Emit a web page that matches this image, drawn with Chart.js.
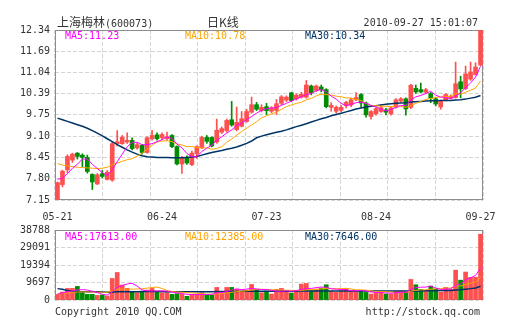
<!DOCTYPE html>
<html>
<head>
<meta charset="utf-8">
<script src="https://cdn.jsdelivr.net/npm/chart.js@4/dist/chart.umd.min.js"></script>
<style>
  body { margin: 0; background: #fff; width: 505px; height: 330px; position: relative; overflow: hidden;
         font-family: "DejaVu Sans Mono", monospace; font-size: 10px; color: #333; }
  canvas { position: absolute; left: 0; }
  #main { top: 0; }
  #vol { top: 222px; }
  .t { position: absolute; white-space: nowrap; line-height: 12px; }
  .cjk { font-family: "Noto Sans CJK SC", sans-serif; font-size: 12px; }
</style>
</head>
<body>
<canvas id="main" width="505" height="225"></canvas>
<canvas id="vol" width="505" height="108"></canvas>

<div class="t" style="left:57px;top:16px"><span class="cjk">上海梅林</span>(600073)</div>
<div class="t cjk" style="left:207px;top:16px">日K线</div>
<div class="t" style="right:27px;top:16.5px">2010-09-27 15:01:07</div>

<div class="t" style="left:65px;top:30px;color:#ff00ff">MA5:11.23</div>
<div class="t" style="left:185px;top:30px;color:#ffa500">MA10:10.78</div>
<div class="t" style="left:305px;top:30px;color:#003366">MA30:10.34</div>

<div class="t" style="left:65px;top:231px;color:#ff00ff">MA5:17613.00</div>
<div class="t" style="left:185px;top:231px;color:#ffa500">MA10:12385.00</div>
<div class="t" style="left:305px;top:231px;color:#003366">MA30:7646.00</div>

<div class="t" style="left:55px;top:306px">Copyright 2010 QQ.COM</div>
<div class="t" style="right:25px;top:306px">http://stock.qq.com</div>

<script>
// trading days shown (categories)
const dates = ['05-21','05-24','05-25','05-26','05-27','05-28','05-31',
  '06-01','06-02','06-03','06-04','06-07','06-08','06-09','06-10','06-11','06-17','06-18',
  '06-21','06-22','06-23','06-24','06-25','06-28','06-29','06-30',
  '07-01','07-02','07-05','07-06','07-07','07-08','07-09','07-12','07-13','07-14','07-15','07-16',
  '07-19','07-20','07-21','07-22','07-23','07-26','07-27','07-28','07-29','07-30',
  '08-02','08-03','08-04','08-05','08-06','08-09','08-10','08-11','08-12','08-13',
  '08-16','08-17','08-18','08-19','08-20','08-23','08-24','08-25','08-26','08-27','08-30','08-31',
  '09-01','09-02','09-03','09-06','09-07','09-08','09-09','09-10','09-13','09-14','09-15','09-16','09-17',
  '09-20','09-21','09-27'];
const tickDates = ['05-21', '06-24', '07-23', '08-24', '09-27'];

const openP = [7.17,7.62,8.07,8.37,8.58,8.52,8.45,7.93,7.64,7.95,
  7.78,7.76,8.87,8.87,8.92,8.97,8.74,8.82,8.60,9.02,
  9.14,9.05,9.02,9.12,8.78,8.25,8.43,8.23,8.56,8.75,
  9.06,9.06,8.92,9.22,9.27,9.60,9.30,9.40,9.55,9.83,
  10.06,9.88,10.00,9.86,9.88,10.10,10.20,10.42,10.24,10.29,
  10.29,10.63,10.50,10.60,10.52,9.98,9.86,9.89,10.03,10.05,
  10.21,10.37,10.11,9.70,9.78,9.85,9.90,9.78,9.98,10.17,
  10.24,9.98,10.56,10.52,10.44,10.40,10.24,9.99,10.20,10.26,
  10.28,10.76,10.55,10.84,10.98,11.27];
const highP = [7.70,8.06,8.53,8.58,8.60,8.56,8.52,7.95,7.96,8.05,
  8.05,8.92,9.27,9.12,9.20,9.05,8.88,8.85,9.08,9.28,
  9.20,9.20,9.22,9.15,8.80,8.48,8.50,8.64,8.80,9.10,
  9.12,9.08,9.62,9.38,9.62,10.16,9.99,9.85,9.92,10.29,
  10.13,10.06,10.10,10.00,10.22,10.34,10.33,10.44,10.39,10.44,
  10.80,10.66,10.66,10.66,10.55,10.12,10.02,10.03,10.16,10.26,
  10.43,10.40,10.14,9.88,9.97,10.06,9.95,10.00,10.25,10.28,
  10.27,10.68,10.66,10.72,10.56,10.43,10.27,10.20,10.40,10.36,
  11.36,10.93,11.24,11.36,11.34,12.34];
const lowP = [7.15,7.55,7.98,8.30,8.40,8.17,7.97,7.47,7.62,7.82,
  7.76,7.72,8.80,8.85,8.88,8.68,8.70,8.55,8.58,8.98,
  8.98,9.00,8.97,8.75,8.22,7.96,8.24,8.20,8.42,8.72,
  8.88,8.77,8.88,9.18,9.22,9.40,9.26,9.38,9.52,9.80,
  9.88,9.84,9.76,9.82,9.76,10.06,10.15,10.15,10.20,10.26,
  10.26,10.36,10.46,10.45,9.96,9.86,9.80,9.84,9.96,10.00,
  10.18,9.98,9.68,9.62,9.74,9.82,9.75,9.74,9.95,10.14,
  9.74,9.94,10.40,10.42,10.40,10.12,10.02,9.92,10.17,10.24,
  10.26,10.27,10.52,10.80,10.96,11.25];
const closeP = [7.68,8.03,8.48,8.55,8.48,8.45,8.02,7.70,7.92,7.87,
  8.00,8.87,8.93,9.07,8.97,8.72,8.84,8.60,9.05,9.12,
  9.02,9.15,9.08,8.78,8.25,8.45,8.28,8.58,8.78,9.06,
  8.94,8.80,9.28,9.33,9.58,9.44,9.52,9.63,9.85,10.06,
  9.92,9.98,9.88,9.96,10.09,10.30,10.29,10.19,10.35,10.38,
  10.66,10.42,10.63,10.52,10.00,10.04,9.98,9.98,10.13,10.21,
  10.28,10.11,9.75,9.85,9.94,9.97,9.83,9.96,10.21,10.24,
  9.93,10.65,10.45,10.45,10.52,10.26,10.08,10.16,10.37,10.31,
  10.70,10.54,11.00,11.06,11.21,12.34];

const ma5 = [7.78,7.82,7.95,8.12,8.24,8.40,8.40,8.24,8.11,7.99,
  7.90,8.07,8.32,8.55,8.77,8.91,8.91,8.84,8.84,8.87,
  8.93,8.99,9.08,9.03,8.86,8.74,8.57,8.47,8.47,8.63,
  8.73,8.83,8.97,9.08,9.19,9.29,9.43,9.50,9.60,9.70,
  9.80,9.89,9.94,9.96,9.97,10.04,10.10,10.17,10.24,10.30,
  10.37,10.40,10.49,10.52,10.45,10.32,10.23,10.10,10.03,10.07,
  10.12,10.14,10.10,10.04,9.99,9.92,9.87,9.91,9.98,10.04,
  10.03,10.20,10.30,10.34,10.40,10.47,10.35,10.29,10.28,10.24,
  10.32,10.42,10.58,10.72,10.90,11.23];
const ma10 = [8.26,8.22,8.19,8.17,8.15,8.14,8.13,8.12,8.11,8.12,
  8.15,8.23,8.28,8.33,8.38,8.41,8.49,8.58,8.69,8.82,
  8.92,8.95,8.96,8.93,8.86,8.83,8.78,8.78,8.75,8.74,
  8.74,8.70,8.72,8.78,8.91,9.01,9.13,9.24,9.34,9.44,
  9.54,9.66,9.72,9.78,9.83,9.92,10.00,10.05,10.10,10.13,
  10.21,10.25,10.33,10.38,10.37,10.35,10.32,10.30,10.27,10.26,
  10.22,10.19,10.10,10.03,10.03,10.02,10.01,10.00,10.01,10.01,
  9.98,10.03,10.10,10.16,10.22,10.25,10.28,10.30,10.31,10.32,
  10.40,10.38,10.44,10.50,10.57,10.78];
const ma30 = [9.65,9.60,9.55,9.50,9.45,9.40,9.34,9.27,9.19,9.11,
  9.02,8.93,8.84,8.76,8.68,8.61,8.55,8.50,8.47,8.46,
  8.45,8.45,8.45,8.44,8.44,8.44,8.45,8.46,8.48,8.52,
  8.56,8.60,8.63,8.66,8.70,8.73,8.77,8.82,8.88,8.95,
  9.05,9.10,9.14,9.18,9.22,9.25,9.29,9.34,9.39,9.43,
  9.48,9.53,9.58,9.63,9.67,9.72,9.76,9.80,9.84,9.88,
  9.93,9.96,9.99,10.01,10.03,10.05,10.07,10.09,10.10,10.11,
  10.12,10.14,10.15,10.16,10.17,10.18,10.18,10.19,10.19,10.19,
  10.20,10.21,10.23,10.26,10.29,10.34];

const volume = [3120,4400,6430,6430,7530,4040,3120,3120,2570,2760,
  2200,11940,15250,8270,6430,4590,4040,4590,5510,6430,
  4590,4040,4040,3120,3490,3120,2020,3120,3120,4040,
  2760,2760,6980,4040,6980,6980,5880,4960,5510,8630,
  5880,4040,4960,3310,5880,6430,4780,3860,5140,8820,
  9190,5140,6060,6610,8450,4780,4230,5140,6250,5140,
  4780,4780,4230,3310,4040,4780,3310,3310,4960,4960,
  4780,11390,8450,5880,5140,7720,6060,4410,6980,5880,
  16530,11000,15500,12500,12600,36465];
const volMa5 = [3300,3900,4600,5000,5580,5770,5510,4850,4080,3120,
  2750,4520,6940,8080,8820,9300,7720,5580,5030,5030,
  5030,5030,4920,4440,3860,3560,3160,2970,2970,3080,
  3010,3160,3930,4120,4700,5550,6170,5770,6060,6390,
  6170,5800,5800,5360,4810,4920,5070,4850,5220,5810,
  6360,6430,6870,7160,7090,6210,6030,5840,5770,5110,
  5110,5220,5040,4450,4230,4230,3930,3750,4080,4260,
  4260,5880,6910,7090,7130,7720,6650,5840,6060,6210,
  7970,8960,11180,12280,13630,17613];
const volMa10 = [3200,3600,4000,4300,4400,4500,4500,4400,4300,4350,
  4260,5010,5900,6080,5970,6030,6120,6260,6560,6930,
  7160,6370,5250,4740,4440,4300,4100,3950,3710,3470,
  3290,3160,3450,3550,3890,4280,4670,4850,5090,5550,
  5860,5990,5790,5710,5600,5550,5440,5330,5290,5310,
  5640,5750,5860,6190,6450,6280,6230,6360,6470,6100,
  5660,5620,5440,5110,4670,4670,4580,4390,4260,4250,
  4250,4910,5330,5590,5700,5990,6270,6380,6580,6670,
  7840,7810,8510,9170,9920,12385];
const volMa30 = [6300,5900,5200,4800,4600,4600,4600,4600,4550,4450,
  4300,4400,4550,4600,4600,4600,4600,4650,4650,4650,
  4650,4650,4600,4600,4600,4600,4550,4550,4550,4600,
  4600,4600,4650,4650,4700,4750,4750,4800,4800,4850,
  4850,4850,4850,4850,4900,4900,4900,4900,4950,5000,
  5000,5000,5000,5050,5050,5050,5050,5050,5050,5050,
  5050,5050,5050,5000,5000,5000,5000,5000,4950,4950,
  4950,5000,5050,5050,5100,5150,5150,5200,5200,5250,
  5500,5700,6000,6300,6700,7646];

const priceTicks = [7.15, 7.80, 8.45, 9.10, 9.75, 10.39, 11.04, 11.69, 12.34];
const volTicks = [0, 9697, 19394, 29091, 38788];

const RED = '#ff5050';
const GREEN = '#008c00';
const GRID = '#d4d4d4';

const candleColor = closeP.map((c, i) => c >= openP[i] ? RED : GREEN);

Chart.defaults.font.family = 'DejaVu Sans Mono';
Chart.defaults.font.size = 10;
Chart.defaults.color = '#333';

// grey border round the plot
const frame = {
  id: 'frame',
  beforeDatasetsDraw(chart) {
    const { ctx, chartArea: a } = chart;
    ctx.save();
    ctx.strokeStyle = '#8c8c8c';
    ctx.lineWidth = 1;
    ctx.strokeRect(a.left + 0.5, a.top + 0.5, a.right - a.left - 1, a.bottom - a.top - 1);
    ctx.restore();
  }
};

function maLine(data, color, width) {
  return { type: 'line', data: data, borderColor: color, borderWidth: width,
           pointRadius: 0, tension: 0, fill: false };
}

// vertical grid: 8 equal columns, not tied to the days
const colGrid = {
  type: 'linear', position: 'top', min: 0, max: 8,
  ticks: { display: false, stepSize: 1 },
  grid: { color: GRID, drawTicks: false },
  border: { display: false, dash: [4, 2] },
  afterFit(s) { s.height = 0; }
};

new Chart(document.getElementById('main'), {
  type: 'bar',
  data: {
    labels: dates,
    datasets: [
      maLine(ma5, '#ff00ff', 1),
      maLine(ma10, '#ffa500', 1),
      maLine(ma30, '#003366', 1.5),
      { data: openP.map((o, i) => [o, closeP[i]]), backgroundColor: candleColor,
        barThickness: 4, grouped: false, minBarLength: 1 },
      { data: lowP.map((l, i) => [l, highP[i]]), backgroundColor: candleColor,
        barThickness: 1, grouped: false }
    ]
  },
  options: {
    responsive: false,
    animation: false,
    events: [],
    layout: { padding: { top: 30, right: 22, left: 0, bottom: 0 } },
    plugins: { legend: { display: false }, tooltip: { enabled: false } },
    scales: {
      x: {
        grid: { display: false, drawTicks: false },
        border: { display: false },
        ticks: {
          autoSkip: false, maxRotation: 0, padding: 11,
          callback: v => tickDates.includes(dates[v]) ? dates[v] : ''
        },
        afterFit(s) { s.height = 25; s.paddingLeft = 0; s.paddingRight = 0; }
      },
      xg: colGrid,
      y: {
        min: 7.15, max: 12.34,
        afterBuildTicks(s) { s.ticks = priceTicks.map(v => ({ value: v })); },
        ticks: { padding: 5, callback: v => v.toFixed(2) },
        grid: { color: GRID, drawTicks: false },
        border: { display: false, dash: [4, 2] },
        afterFit(s) { s.width = 55; s.paddingTop = 0; s.paddingBottom = 0; }
      }
    }
  },
  plugins: [frame]
});

new Chart(document.getElementById('vol'), {
  type: 'bar',
  data: {
    labels: dates,
    datasets: [
      maLine(volMa5, '#ff00ff', 1),
      maLine(volMa10, '#ffa500', 1),
      maLine(volMa30, '#003366', 1.5),
      { data: volume, backgroundColor: candleColor, barThickness: 4, grouped: false }
    ]
  },
  options: {
    responsive: false,
    animation: false,
    events: [],
    layout: { padding: { top: 8, right: 22, left: 0, bottom: 30 } },
    plugins: { legend: { display: false }, tooltip: { enabled: false } },
    scales: {
      x: { display: false },
      xg: colGrid,
      y: {
        min: 0, max: 38788,
        afterBuildTicks(s) { s.ticks = volTicks.map(v => ({ value: v })); },
        ticks: { padding: 5, callback: v => String(v) },
        grid: { color: GRID, drawTicks: false },
        border: { display: false, dash: [4, 2] },
        afterFit(s) { s.width = 55; s.paddingTop = 0; s.paddingBottom = 0; }
      }
    }
  },
  plugins: [frame]
});
</script>
</body>
</html>
